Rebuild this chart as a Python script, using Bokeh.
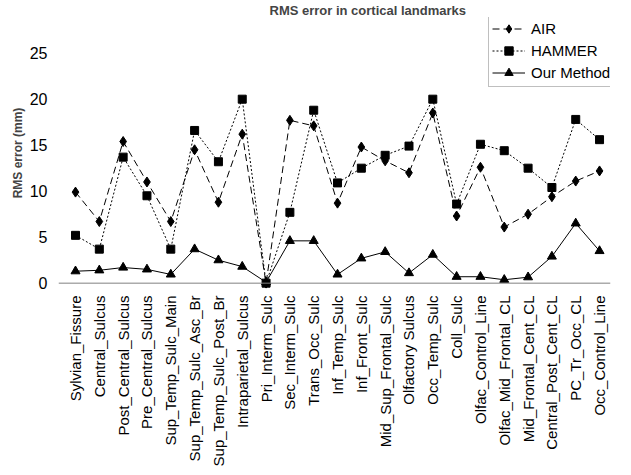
import math
from bokeh.plotting import figure
from bokeh.models import Range1d, FixedTicker, Span, Legend, LegendItem
from bokeh.embed import file_html
from bokeh.resources import INLINE

categories = ["Sylvian_Fissure", "Central_Sulcus", "Post_Central_Sulcus", "Pre_Central_Sulcus",
              "Sup_Temp_Sulc_Main", "Sup_Temp_Sulc_Asc_Br", "Sup_Temp_Sulc_Post_Br",
              "Intraparietal_Sulcus", "Pri_Interm_Sulc", "Sec_Interm_Sulc", "Trans_Occ_Sulc",
              "Inf_Temp_Sulc", "Inf_Front_Sulc", "Mid_Sup_Frontal_Sulc", "Olfactory Sulcus",
              "Occ_Temp_Sulc", "Coll_Sulc", "Olfac_Control_Line", "Olfac_Mid_Frontal_CL",
              "Mid_Frontal_Cent_CL", "Central_Post_Cent_CL", "PC_Tr_Occ_CL", "Occ_Control_Line"]

air = [9.9, 6.7, 15.4, 11.0, 6.7, 14.5, 8.8, 16.2, 0.0, 17.7, 17.1,
       8.7, 14.8, 13.3, 12.0, 18.5, 7.3, 12.6, 6.1, 7.5, 9.4, 11.1, 12.2]
hammer = [5.2, 3.7, 13.7, 9.5, 3.7, 16.6, 13.2, 20.0, 0.0, 7.7, 18.8,
          10.9, 12.5, 13.9, 14.9, 20.0, 8.6, 15.1, 14.4, 12.5, 10.4, 17.8, 15.6]
ours = [1.3, 1.4, 1.7, 1.5, 0.95, 3.7, 2.5, 1.8, 0.1, 4.6, 4.6,
        0.95, 2.7, 3.4, 1.1, 3.1, 0.7, 0.7, 0.37, 0.65, 2.9, 6.5, 3.5]

y_ticks = [0, 5, 10, 15, 20, 25]
title_text = "RMS error in cortical landmarks"
y_label = "RMS error (mm)"

FONT = "Liberation Sans"
xs = list(range(len(categories)))

p = figure(frame_width=552, frame_height=271, output_backend="svg", toolbar_location=None,
           x_range=Range1d(-0.714, 22.46), y_range=Range1d(-0.58, 28.88),
           min_border_left=58, min_border_right=5, min_border_top=0, min_border_bottom=0,
           background_fill_color="white", border_fill_color="white")
p.outline_line_color = None
p.xgrid.visible = False
p.ygrid.visible = False

p.title.text = title_text
p.title.text_font = FONT
p.title.text_font_size = "13px"
p.title.text_font_style = "bold"
p.title.align = "left"
p.title.offset = 211
p.title.standoff = 0

# axes
xa = p.xaxis[0]
xa.ticker = FixedTicker(ticks=xs)
xa.major_label_overrides = {i: c for i, c in enumerate(categories)}
xa.major_label_orientation = math.pi / 2
xa.major_label_text_font = FONT
xa.major_label_text_font_size = "15px"
xa.major_label_text_color = "black"
xa.axis_line_color = None
xa.major_tick_line_color = None
xa.minor_tick_line_color = None
xa.major_tick_out = 0
xa.major_tick_in = 0
xa.minor_tick_out = 0
xa.major_label_standoff = 7

ya = p.yaxis[0]
ya.ticker = FixedTicker(ticks=y_ticks)
ya.axis_label = y_label
ya.axis_label_text_font = FONT
ya.axis_label_text_font_size = "12px"
ya.axis_label_text_font_style = "bold"
ya.axis_label_standoff = 2
ya.major_label_text_font = FONT
ya.major_label_text_font_size = "16px"
ya.major_label_text_color = "black"
ya.axis_line_color = None
ya.major_tick_line_color = None
ya.minor_tick_line_color = None
ya.major_tick_out = 0
ya.major_tick_in = 0
ya.minor_tick_out = 0
ya.major_label_standoff = 11

p.add_layout(Span(location=0, dimension="width", line_color="#808080", line_width=1))

l1 = p.line(xs, air, line_color="black", line_width=1, line_dash="7 4")
m1 = p.scatter(xs, air, marker="diamond", size=10, color="black")
l2 = p.line(xs, hammer, line_color="black", line_width=1, line_dash="2 2")
m2 = p.scatter(xs, hammer, marker="square", size=8, color="black")
l3 = p.line(xs, ours, line_color="black", line_width=1)
m3 = p.scatter(xs, ours, marker="triangle", size=9, color="black")

legend = Legend(items=[LegendItem(label="AIR", renderers=[l1, m1]),
                       LegendItem(label="HAMMER", renderers=[l2, m2]),
                       LegendItem(label="Our Method", renderers=[l3, m3])],
                location=(430, 201))
legend.label_text_font = FONT
legend.label_text_font_size = "15px"
legend.label_text_color = "black"
legend.glyph_width = 33
legend.glyph_height = 21
legend.label_height = 21
legend.label_width = 87
legend.label_standoff = 6
legend.spacing = 1
legend.padding = 3
legend.margin = 0
legend.border_line_color = "#808080"
legend.border_line_width = 1
legend.background_fill_color = "white"
legend.background_fill_alpha = 1
p.add_layout(legend, "center")

open("out.html", "w").write(file_html(p, INLINE))
